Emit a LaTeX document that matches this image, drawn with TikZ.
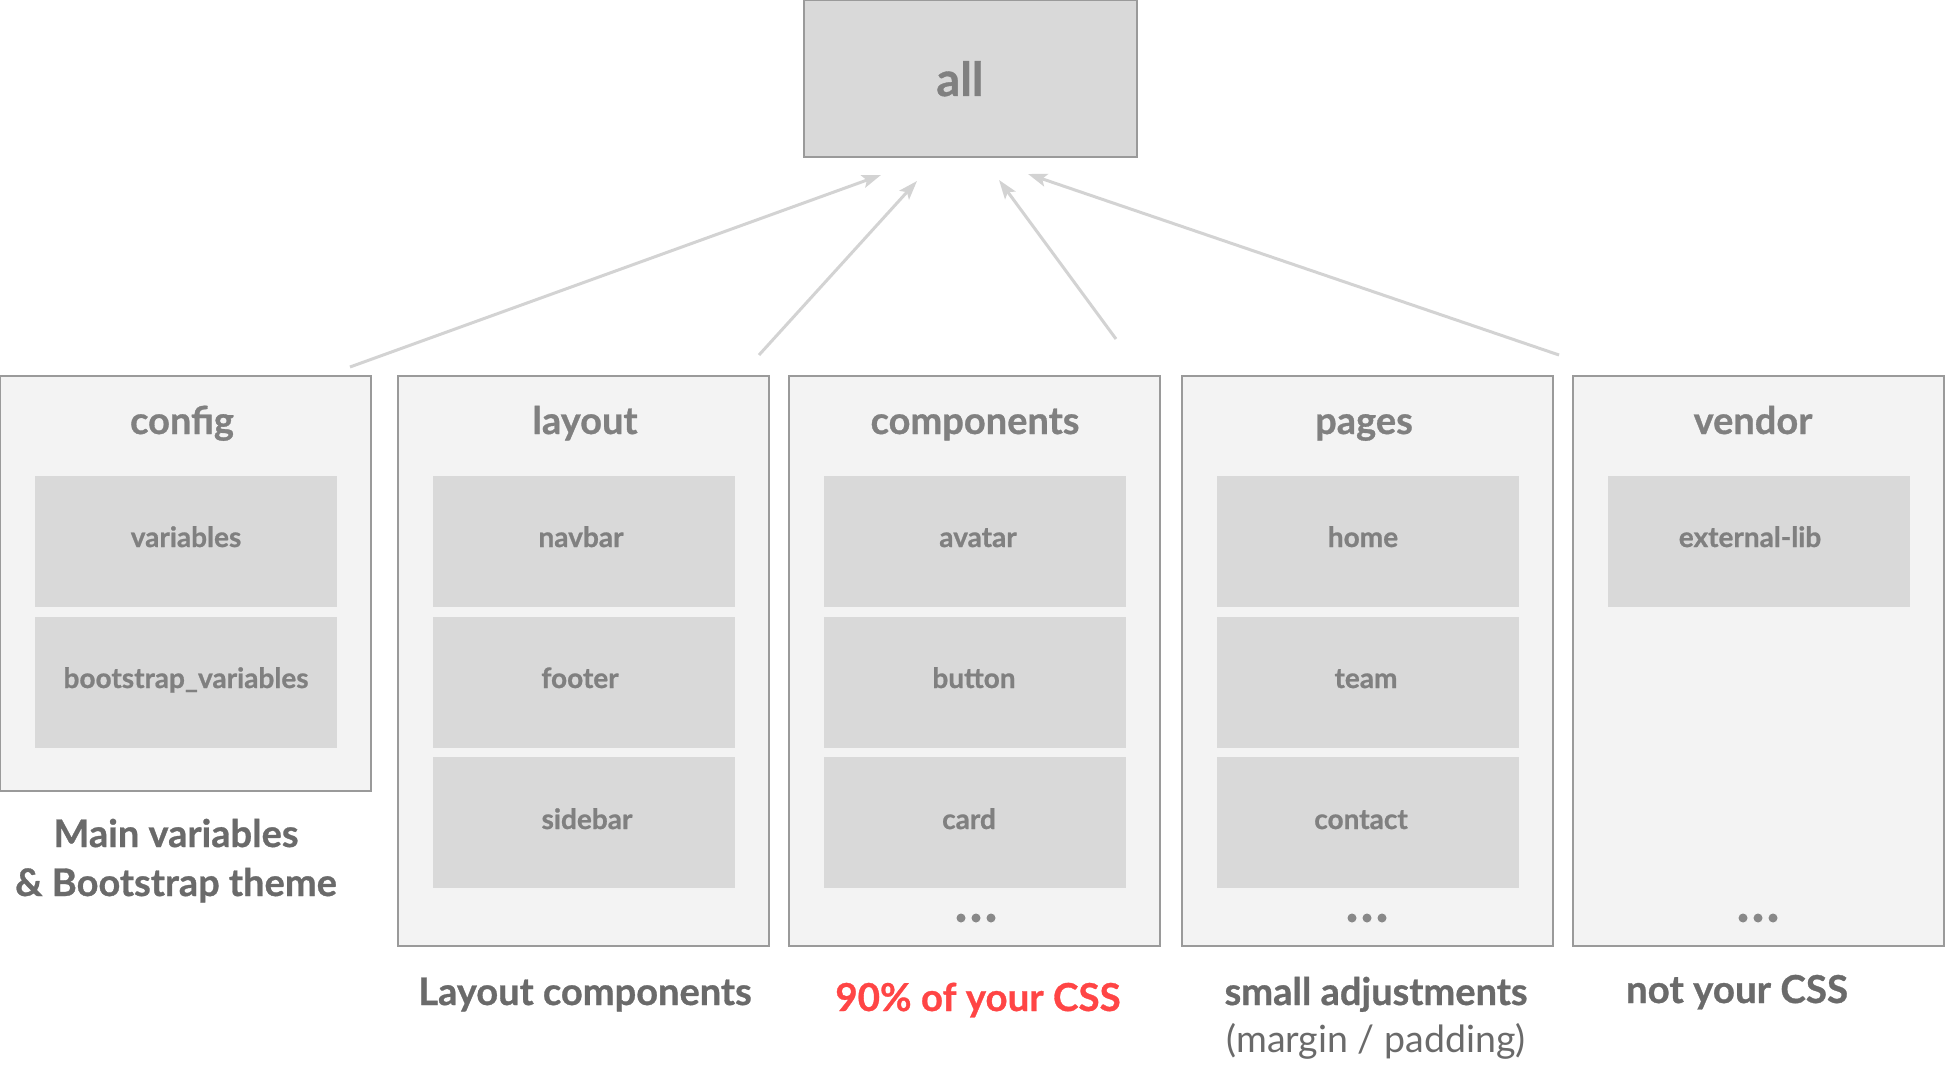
\documentclass[tikz,border=0pt]{standalone}
\usepackage{fontspec}
\setmainfont{Lato}[BoldFeatures={FakeBold=0.8}]
\usetikzlibrary{arrows.meta}
\definecolor{boxline}{HTML}{9A9A9A}
\definecolor{colfill}{HTML}{F3F3F3}
\definecolor{innerfill}{HTML}{D9D9D9}
\definecolor{titletext}{HTML}{808080}
\definecolor{captext}{HTML}{6A6A6A}
\definecolor{redtext}{HTML}{FF4545}
\definecolor{arrowcol}{HTML}{D3D3D3}
\definecolor{dotcol}{HTML}{888888}
\begin{document}
\begin{tikzpicture}[x=1pt,y=-1pt,
  colbox/.style={draw=boxline, line width=1.5pt, fill=colfill, anchor=north west,
    minimum width=371pt, inner sep=0pt, outer sep=0pt},
  innerbox/.style={fill=innerfill, anchor=north west, minimum width=302pt,
    minimum height=131pt, inner sep=0pt, outer sep=0pt},
  alltext/.style={anchor=base, inner sep=0pt, text=titletext,
    font=\fontsize{47}{50}\selectfont\bfseries},
  titletxt/.style={anchor=base, inner sep=0pt, text=titletext,
    font=\fontsize{38}{40}\selectfont\bfseries},
  innertxt/.style={anchor=base, inner sep=0pt, text=titletext,
    font=\fontsize{28}{30}\selectfont\bfseries},
  captxt/.style={anchor=base, inner sep=0pt, text=captext,
    font=\fontsize{38}{40}\selectfont\bfseries},
  subtxt/.style={anchor=base, inner sep=0pt, text=captext,
    font=\fontsize{37.5}{40}\selectfont},
  redtxt/.style={anchor=base, inner sep=0pt, text=redtext,
    font=\fontsize{38.5}{40}\selectfont\bfseries},
  link/.style={draw=arrowcol, line width=3pt,
    -{Stealth[length=19pt, width=13pt, inset=4pt]}},
  dot/.style={circle, fill=dotcol, inner sep=0pt, minimum size=9pt}
]
\useasboundingbox (0,0) rectangle (1945,1067);

% top box
\node[draw=boxline, line width=1.5pt, fill=innerfill, anchor=north west,
  minimum width=333pt, minimum height=157pt, inner sep=0pt, outer sep=0pt] (all) at (804,0) {};
\node[alltext] (alltxt) at (960,96) {all};

% columns
\node[colbox, minimum height=415pt] (config) at (0,376) {};
\node[colbox, minimum height=570pt] (layout) at (398,376) {};
\node[colbox, minimum height=570pt] (components) at (789,376) {};
\node[colbox, minimum height=570pt] (pages) at (1182,376) {};
\node[colbox, minimum height=570pt] (vendor) at (1573,376) {};

% titles
\node[titletxt] (tconfig) at (182,434) {config};
\node[titletxt] (tlayout) at (585,434) {layout};
\node[titletxt] (tcomponents) at (975,434) {components};
\node[titletxt] (tpages) at (1364,434) {pages};
\node[titletxt] (tvendor) at (1753,434) {vendor};

% inner boxes: config
\node[innerbox] (variables) at (35,476) {};
\node[innerbox] (bsvars) at (35,617) {};
\node[innertxt] at (186,547) {variables};
\node[innertxt] at (186,688) {bootstrap\_variables};
% layout
\node[innerbox] (navbar) at (433,476) {};
\node[innerbox] (footer) at (433,617) {};
\node[innerbox] (sidebar) at (433,757) {};
\node[innertxt] at (581,547) {navbar};
\node[innertxt] at (580,688) {footer};
\node[innertxt] at (587,829) {sidebar};
% components
\node[innerbox] (avatar) at (824,476) {};
\node[innerbox] (button) at (824,617) {};
\node[innerbox] (card) at (824,757) {};
\node[innertxt] at (978,547) {avatar};
\node[innertxt] at (974,688) {button};
\node[innertxt] at (969,829) {card};
% pages
\node[innerbox] (home) at (1217,476) {};
\node[innerbox] (team) at (1217,617) {};
\node[innerbox] (contact) at (1217,757) {};
\node[innertxt] at (1363,547) {home};
\node[innertxt] at (1366,688) {team};
\node[innertxt] at (1361,829) {contact};
% vendor
\node[innerbox] (extlib) at (1608,476) {};
\node[innertxt] at (1750,547) {external-lib};

% dots
\foreach \cx/\nm in {976/c, 1367/p, 1758/v}{
  \node[dot] (\nm d1) at (\cx-15,918) {};
  \node[dot] (\nm d2) at (\cx,918) {};
  \node[dot] (\nm d3) at (\cx+15,918) {};
}

% captions
\node[captxt] (cap1a) at (176,847) {Main variables};
\node[captxt] (cap1b) at (176,896) {\& Bootstrap theme};
\node[captxt] (cap2) at (585,1005) {Layout components};
\node[redtxt] (cap3) at (978,1011) {90\% of your CSS};
\node[captxt] (cap4a) at (1376,1005) {small adjustments};
\node[subtxt] (cap4b) at (1376,1052) {(margin / padding)};
\node[captxt, font=\fontsize{38.5}{40}\selectfont\bfseries] (cap5) at (1737,1003) {not your CSS};

% arrows
\coordinate (s1) at (350,367);
\coordinate (e1) at (881,175);
\coordinate (s2) at (759,355);
\coordinate (e2) at (917,181);
\coordinate (s3) at (1116,339);
\coordinate (e3) at (999,180);
\coordinate (s4) at (1559,355);
\coordinate (e4) at (1028,174);
\draw[link] (s1) -- (e1);
\draw[link] (s2) -- (e2);
\draw[link] (s3) -- (e3);
\draw[link] (s4) -- (e4);
\end{tikzpicture}
\end{document}
